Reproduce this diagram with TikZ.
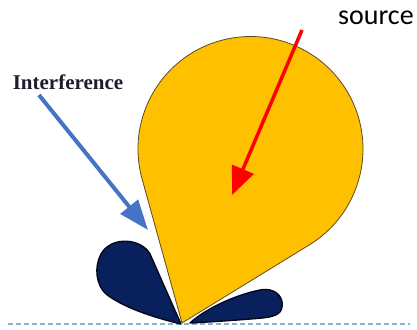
\documentclass[tikz,border=0pt]{standalone}
\usepackage{fontspec}
\setmainfont{Liberation Serif}
\newfontfamily\carl{Carlito}
\usetikzlibrary{arrows.meta,calc}
\definecolor{lobeyellow}{RGB}{255,192,0}
\definecolor{lobenavy}{RGB}{8,33,92}
\definecolor{arrowblue}{RGB}{70,115,195}
\definecolor{baseblue}{RGB}{140,175,215}
\definecolor{outlinebrown}{RGB}{90,75,40}
\definecolor{textdark}{RGB}{30,28,45}
\begin{document}
\begin{tikzpicture}[x=1pt,y=1pt,
  mainlobe/.style={fill=lobeyellow, draw=outlinebrown, line width=0.8pt, line join=round},
  sidelobe/.style={fill=lobenavy, draw=black!75!lobenavy, line width=1.4pt, line join=round},
  bluearrow/.style={draw=arrowblue, line width=4pt, -{Triangle[length=30pt,width=22pt]}},
  redarrow/.style={draw=red, line width=3.5pt, -{Triangle[length=28pt,width=23pt]}},
  groundline/.style={draw=baseblue, line width=1.2pt, dash pattern=on 5pt off 3pt}]
\useasboundingbox (0,0) rectangle (417,329);
% ground line
\coordinate (g1) at (8,5);
\coordinate (g2) at (410,5);
\draw[groundline] (g1) -- (g2);
% left side lobe
\draw[sidelobe] (181,5) -- (150,75) .. controls (142,90) and (112,94) .. (101,75)
  .. controls (94,62) and (96,44) .. (106,35)
  .. controls (125,20) and (160,10) .. (181,5) -- cycle;
% right side lobe
\draw[sidelobe] (190,6) .. controls (205,20) and (235,34) .. (260,39)
  .. controls (275,42) and (284,32) .. (282,22)
  .. controls (281,14) and (272,12) .. (262,11)
  .. controls (240,9) and (210,7) .. (190,6) -- cycle;
% main lobe
\coordinate (c) at (250.5,180);
\draw[mainlobe] (182,6) -- ([shift={(c)}]195.5:112.5)
  arc[start angle=195.5, end angle=-58.5, radius=112.5] -- cycle;
% labels
\node[font=\bfseries\fontsize{21}{24}\selectfont, text=textdark, inner sep=0pt] (interf) at (68,247) {Interference};
\node[font=\carl\fontsize{28}{32}\selectfont, anchor=base west, inner sep=0pt] (src) at (338,304) {source};
% arrows
\coordinate (bstart) at (39,234);
\coordinate (bend) at (148,99);
\draw[bluearrow] (bstart) -- (bend);
\coordinate (rstart) at (302,299);
\coordinate (rend) at (232,134);
\draw[redarrow] (rstart) -- (rend);
\end{tikzpicture}
\end{document}
